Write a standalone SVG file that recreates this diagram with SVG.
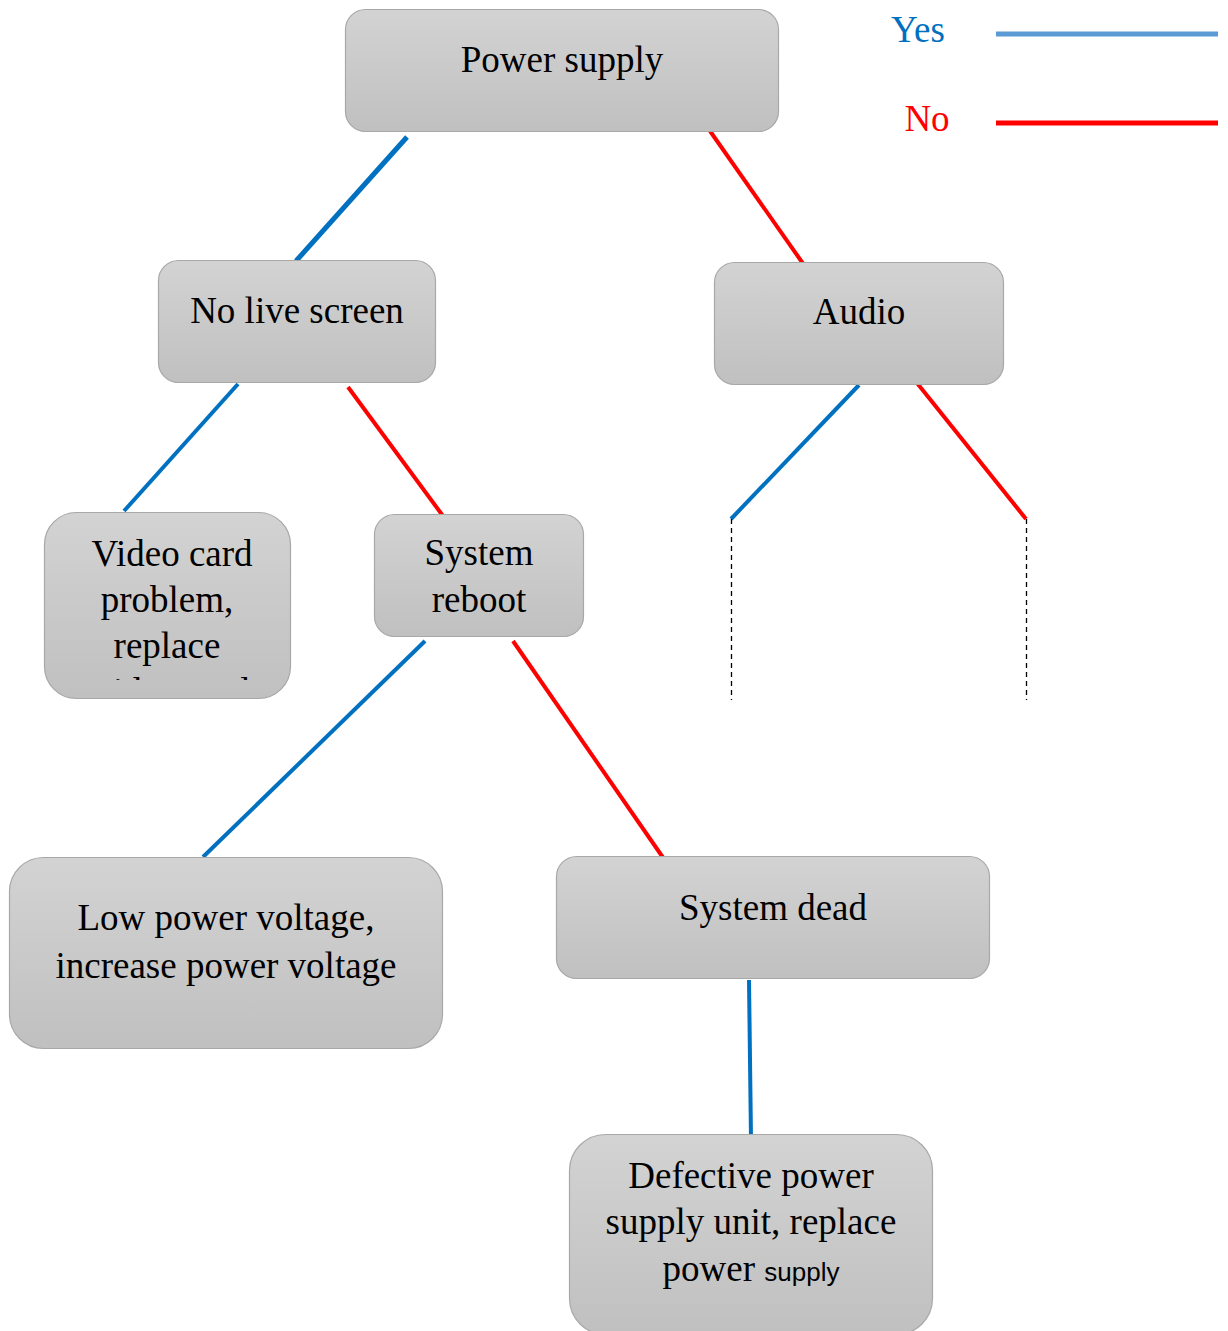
<svg xmlns="http://www.w3.org/2000/svg" width="1228" height="1331" viewBox="0 0 1228 1331">
  <defs>
    <linearGradient id="boxFill" x1="0" y1="0" x2="0" y2="1">
      <stop offset="0" stop-color="#d3d3d3"/>
      <stop offset="1" stop-color="#c0c0c0"/>
    </linearGradient>
    <clipPath id="videoClip">
      <rect x="44" y="512" width="247" height="168"/>
    </clipPath>
    <style>
      .box { fill: url(#boxFill); stroke: #a8a8a8; stroke-width: 1.2; }
      .lbl { font-family: "Liberation Serif", "Times New Roman", serif; font-size: 37px; fill: #000; text-anchor: middle; }
      .sans { font-family: "Liberation Sans", Arial, sans-serif; font-size: 26px; }
      .yes { stroke: #0070c0; stroke-width: 4; fill: none; }
      .no { stroke: #ff0000; stroke-width: 4; fill: none; }
      .dash { stroke: #000; stroke-width: 1.3; stroke-dasharray: 5 4; fill: none; }
    </style>
  </defs>
  <rect width="1228" height="1331" fill="#ffffff"/>

  <!-- legend -->
  <g id="legend">
    <text x="918" y="42" class="lbl" style="fill:#0070c0">Yes</text>
    <line x1="996" y1="34" x2="1218" y2="34" stroke="#5b9bd5" stroke-width="5"/>
    <text x="927" y="131" class="lbl" style="fill:#ff0000">No</text>
    <line x1="996" y1="123" x2="1218" y2="123" stroke="#ff0000" stroke-width="5"/>
  </g>

  <!-- connectors -->
  <g id="connectors">
    <line class="yes" x1="407" y1="137" x2="296" y2="261" style="stroke-width:5"/>
    <line class="no" x1="710" y1="131" x2="804" y2="265"/>
    <line class="yes" x1="238" y1="384" x2="124" y2="511"/>
    <line class="no" x1="348" y1="387" x2="443" y2="516"/>
    <line class="yes" x1="859" y1="385" x2="731" y2="519"/>
    <line class="no" x1="917" y1="383" x2="1026" y2="519"/>
    <line class="dash" x1="731.5" y1="519" x2="731.5" y2="700"/>
    <line class="dash" x1="1026.5" y1="519" x2="1026.5" y2="700"/>
    <line class="yes" x1="425" y1="641" x2="203" y2="857"/>
    <line class="no" x1="513" y1="641" x2="664" y2="859"/>
    <line class="yes" x1="749" y1="980" x2="751" y2="1140"/>
  </g>

  <!-- nodes -->
  <g id="power-supply">
    <rect class="box" x="345.5" y="9.5" width="433" height="122" rx="20"/>
    <text class="lbl" x="562" y="72">Power supply</text>
  </g>

  <g id="no-live-screen">
    <rect class="box" x="158.5" y="260.5" width="277" height="122" rx="20"/>
    <text class="lbl" x="297" y="323">No live screen</text>
  </g>

  <g id="audio">
    <rect class="box" x="714.5" y="262.5" width="289" height="122" rx="20"/>
    <text class="lbl" x="859" y="324">Audio</text>
  </g>

  <g id="video-card">
    <rect class="box" x="44.5" y="512.5" width="246" height="186" rx="32"/>
    <g clip-path="url(#videoClip)">
      <text class="lbl" x="172" y="566">Video card</text>
      <text class="lbl" x="167" y="612">problem,</text>
      <text class="lbl" x="167" y="658">replace</text>
      <text class="lbl" x="172" y="704">video card</text>
    </g>
  </g>

  <g id="system-reboot">
    <rect class="box" x="374.5" y="514.5" width="209" height="122" rx="20"/>
    <text class="lbl" x="479" y="565">System</text>
    <text class="lbl" x="479" y="612">reboot</text>
  </g>

  <g id="low-power-voltage">
    <rect class="box" x="9.5" y="857.5" width="433" height="191" rx="34"/>
    <text class="lbl" x="226" y="930">Low power voltage,</text>
    <text class="lbl" x="226" y="978">increase power voltage</text>
  </g>

  <g id="system-dead">
    <rect class="box" x="556.5" y="856.5" width="433" height="122" rx="20"/>
    <text class="lbl" x="773" y="920">System dead</text>
  </g>

  <g id="defective-psu">
    <rect class="box" x="569.5" y="1134.5" width="363" height="200" rx="36"/>
    <text class="lbl" x="751" y="1188">Defective power</text>
    <text class="lbl" x="751" y="1234">supply unit, replace</text>
    <text class="lbl" x="751" y="1281">power <tspan class="sans">supply</tspan></text>
  </g>
</svg>
